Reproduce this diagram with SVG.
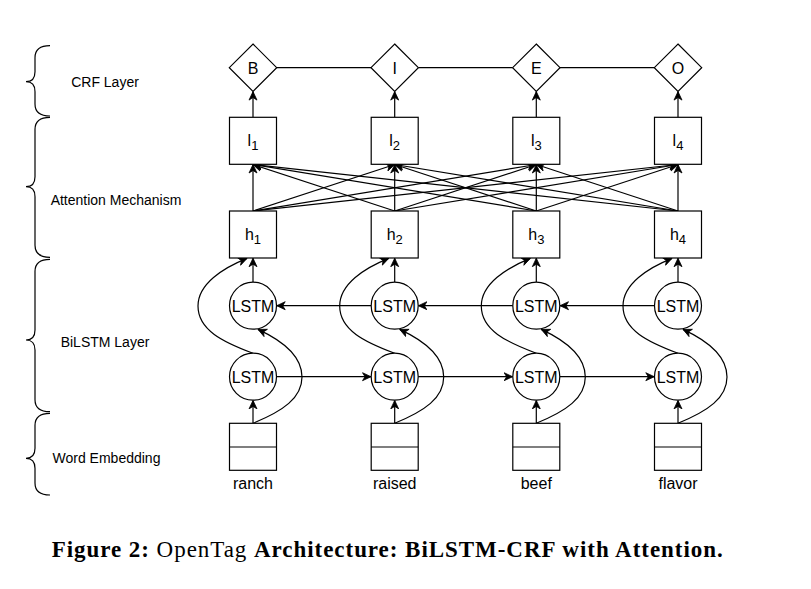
<svg xmlns="http://www.w3.org/2000/svg" width="811" height="589" viewBox="0 0 811 589">
<style>
.n{fill:#fff;stroke:#000;stroke-width:1.2}
.c{fill:none;stroke:#000;stroke-width:1.2}
.a{fill:none;stroke:#000;stroke-width:1.2;marker-end:url(#arr)}
.t{font-family:"Liberation Sans",Arial,sans-serif;font-size:16px;fill:#000;text-anchor:middle}
.lb{font-family:"Liberation Sans",Arial,sans-serif;font-size:14px;fill:#000;text-anchor:middle}
.cap{font-family:"Liberation Serif","Times New Roman",serif;font-size:23px;fill:#000}
</style>
<defs>
<marker id="arr" viewBox="-9 -5 10 10" refX="0" refY="0" markerWidth="10" markerHeight="10" markerUnits="userSpaceOnUse" orient="auto">
<path d="M0,0 L-8.5,-4 L-6,0 L-8.5,4 Z" fill="#000" stroke="#000" stroke-width="0.8"/>
</marker>
</defs>
<rect width="811" height="589" fill="#fff"/>

<g id="braces">
<path class="c" d="M50,45.7 Q35,45.7 35,57.7 L35,71.7 Q35,81.7 26,81.7 Q35,81.7 35,91.7 L35,104 Q35,116 50,116"/>
<path class="c" d="M50,117.3 Q35,117.3 35,129.3 L35,176.7 Q35,186.7 26,186.7 Q35,186.7 35,196.7 L35,245.3 Q35,257.3 50,257.3"/>
<path class="c" d="M50,259.3 Q35,259.3 35,271.3 L35,330 Q35,340 26,340 Q35,340 35,350 L35,399.7 Q35,411.7 50,411.7"/>
<path class="c" d="M50,413.3 Q35,413.3 35,425.3 L35,448.3 Q35,458.3 26,458.3 Q35,458.3 35,468.3 L35,483 Q35,495 50,495"/>
</g>
<g id="layer-labels">
<text class="lb" x="105" y="86.7">CRF Layer</text>
<text class="lb" x="116" y="205">Attention Mechanism</text>
<text class="lb" x="105" y="346.7">BiLSTM Layer</text>
<text class="lb" x="106.5" y="463.3">Word Embedding</text>
</g>

<g id="connectors">
<!-- CRF chain -->
<line class="c" x1="276.7" y1="67.7" x2="371" y2="67.7"/>
<line class="c" x1="418.4" y1="67.7" x2="512.6" y2="67.7"/>
<line class="c" x1="560" y1="67.7" x2="654.3" y2="67.7"/>
<!-- l to tags -->
<line class="a" x1="253" y1="117.3" x2="253" y2="91.6"/>
<line class="a" x1="394.7" y1="117.3" x2="394.7" y2="91.6"/>
<line class="a" x1="536.3" y1="117.3" x2="536.3" y2="91.6"/>
<line class="a" x1="678" y1="117.3" x2="678" y2="91.6"/>
<!-- attention -->
<line class="a" x1="253" y1="211" x2="253" y2="164.5"/>
<line class="a" x1="253" y1="211" x2="394.7" y2="164.5"/>
<line class="a" x1="253" y1="211" x2="536.3" y2="164.5"/>
<line class="a" x1="253" y1="211" x2="678" y2="164.5"/>
<line class="a" x1="394.7" y1="211" x2="253" y2="164.5"/>
<line class="a" x1="394.7" y1="211" x2="394.7" y2="164.5"/>
<line class="a" x1="394.7" y1="211" x2="536.3" y2="164.5"/>
<line class="a" x1="394.7" y1="211" x2="678" y2="164.5"/>
<line class="a" x1="536.3" y1="211" x2="253" y2="164.5"/>
<line class="a" x1="536.3" y1="211" x2="394.7" y2="164.5"/>
<line class="a" x1="536.3" y1="211" x2="536.3" y2="164.5"/>
<line class="a" x1="536.3" y1="211" x2="678" y2="164.5"/>
<line class="a" x1="678" y1="211" x2="253" y2="164.5"/>
<line class="a" x1="678" y1="211" x2="394.7" y2="164.5"/>
<line class="a" x1="678" y1="211" x2="536.3" y2="164.5"/>
<line class="a" x1="678" y1="211" x2="678" y2="164.5"/>
<!-- backward LSTM to h -->
<line class="a" x1="253" y1="282.2" x2="253" y2="258.2"/>
<line class="a" x1="394.7" y1="282.2" x2="394.7" y2="258.2"/>
<line class="a" x1="536.3" y1="282.2" x2="536.3" y2="258.2"/>
<line class="a" x1="678" y1="282.2" x2="678" y2="258.2"/>
<!-- embedding to forward LSTM -->
<line class="a" x1="253" y1="423.3" x2="253" y2="400.4"/>
<line class="a" x1="394.7" y1="423.3" x2="394.7" y2="400.4"/>
<line class="a" x1="536.3" y1="423.3" x2="536.3" y2="400.4"/>
<line class="a" x1="678" y1="423.3" x2="678" y2="400.4"/>
<!-- forward chain -->
<line class="a" x1="276.5" y1="376.7" x2="371" y2="376.7"/>
<line class="a" x1="418.2" y1="376.7" x2="512.6" y2="376.7"/>
<line class="a" x1="559.8" y1="376.7" x2="654.3" y2="376.7"/>
<!-- backward chain -->
<line class="a" x1="371.2" y1="305.7" x2="276.7" y2="305.7"/>
<line class="a" x1="512.8" y1="305.7" x2="418.4" y2="305.7"/>
<line class="a" x1="654.5" y1="305.7" x2="560" y2="305.7"/>
<!-- forward LSTM to h (curves) -->
<path class="a" d="M253,353.2 C223,342 198,330 198,306 C198,284 223,268 247,258.4"/>
<path class="a" d="M394.7,353.2 C364.7,342 339.7,330 339.7,306 C339.7,284 364.7,268 388.7,258.4"/>
<path class="a" d="M536.3,353.2 C506.3,342 481.3,330 481.3,306 C481.3,284 506.3,268 530.3,258.4"/>
<path class="a" d="M678,353.2 C648,342 623,330 623,306 C623,284 648,268 672,258.4"/>
<!-- embedding to backward LSTM (curves) -->
<path class="a" d="M253,423.3 C283,411 302,398 302,377 C302,356 281,340 258,329.4"/>
<path class="a" d="M394.7,423.3 C424.7,411 443.7,398 443.7,377 C443.7,356 422.7,340 399.7,329.4"/>
<path class="a" d="M536.3,423.3 C566.3,411 585.3,398 585.3,377 C585.3,356 564.3,340 541.3,329.4"/>
<path class="a" d="M678,423.3 C708,411 727,398 727,377 C727,356 706,340 683,329.4"/>
</g>

<g id="tag-B"><polygon class="n" points="253,44 276.7,67.7 253,91.4 229.3,67.7"/><text class="t" x="253" y="73.5">B</text></g>
<g id="tag-I"><polygon class="n" points="394.7,44 418.4,67.7 394.7,91.4 371,67.7"/><text class="t" x="394.7" y="73.5">I</text></g>
<g id="tag-E"><polygon class="n" points="536.3,44 560,67.7 536.3,91.4 512.6,67.7"/><text class="t" x="536.3" y="73.5">E</text></g>
<g id="tag-O"><polygon class="n" points="678,44 701.7,67.7 678,91.4 654.3,67.7"/><text class="t" x="678" y="73.5">O</text></g>

<g id="l1"><rect class="n" x="229.5" y="117.3" width="47" height="47"/><text class="t" x="253" y="146.3">l<tspan font-size="13" dy="4">1</tspan></text></g>
<g id="l2"><rect class="n" x="371.2" y="117.3" width="47" height="47"/><text class="t" x="394.7" y="146.3">l<tspan font-size="13" dy="4">2</tspan></text></g>
<g id="l3"><rect class="n" x="512.8" y="117.3" width="47" height="47"/><text class="t" x="536.3" y="146.3">l<tspan font-size="13" dy="4">3</tspan></text></g>
<g id="l4"><rect class="n" x="654.5" y="117.3" width="47" height="47"/><text class="t" x="678" y="146.3">l<tspan font-size="13" dy="4">4</tspan></text></g>

<g id="h1"><rect class="n" x="229.5" y="211" width="47" height="47"/><text class="t" x="253" y="240">h<tspan font-size="13" dy="4">1</tspan></text></g>
<g id="h2"><rect class="n" x="371.2" y="211" width="47" height="47"/><text class="t" x="394.7" y="240">h<tspan font-size="13" dy="4">2</tspan></text></g>
<g id="h3"><rect class="n" x="512.8" y="211" width="47" height="47"/><text class="t" x="536.3" y="240">h<tspan font-size="13" dy="4">3</tspan></text></g>
<g id="h4"><rect class="n" x="654.5" y="211" width="47" height="47"/><text class="t" x="678" y="240">h<tspan font-size="13" dy="4">4</tspan></text></g>

<g id="lstm-b1"><circle class="n" cx="253" cy="305.7" r="23.5"/><text class="t" x="253" y="311.5">LSTM</text></g>
<g id="lstm-b2"><circle class="n" cx="394.7" cy="305.7" r="23.5"/><text class="t" x="394.7" y="311.5">LSTM</text></g>
<g id="lstm-b3"><circle class="n" cx="536.3" cy="305.7" r="23.5"/><text class="t" x="536.3" y="311.5">LSTM</text></g>
<g id="lstm-b4"><circle class="n" cx="678" cy="305.7" r="23.5"/><text class="t" x="678" y="311.5">LSTM</text></g>

<g id="lstm-f1"><circle class="n" cx="253" cy="376.7" r="23.5"/><text class="t" x="253" y="382.5">LSTM</text></g>
<g id="lstm-f2"><circle class="n" cx="394.7" cy="376.7" r="23.5"/><text class="t" x="394.7" y="382.5">LSTM</text></g>
<g id="lstm-f3"><circle class="n" cx="536.3" cy="376.7" r="23.5"/><text class="t" x="536.3" y="382.5">LSTM</text></g>
<g id="lstm-f4"><circle class="n" cx="678" cy="376.7" r="23.5"/><text class="t" x="678" y="382.5">LSTM</text></g>

<g id="emb1"><rect class="n" x="229.5" y="423.3" width="47" height="47"/><line class="c" x1="229.5" y1="447" x2="276.5" y2="447"/><text class="t" x="253" y="489.3">ranch</text></g>
<g id="emb2"><rect class="n" x="371.2" y="423.3" width="47" height="47"/><line class="c" x1="371.2" y1="447" x2="418.2" y2="447"/><text class="t" x="394.7" y="489.3">raised</text></g>
<g id="emb3"><rect class="n" x="512.8" y="423.3" width="47" height="47"/><line class="c" x1="512.8" y1="447" x2="559.8" y2="447"/><text class="t" x="536.3" y="489.3">beef</text></g>
<g id="emb4"><rect class="n" x="654.5" y="423.3" width="47" height="47"/><line class="c" x1="654.5" y1="447" x2="701.5" y2="447"/><text class="t" x="678" y="489.3">flavor</text></g>

<g id="caption">
<text class="cap" x="51.7" y="557.3" textLength="671" lengthAdjust="spacing"><tspan font-weight="bold">Figure 2:</tspan> OpenTag <tspan font-weight="bold">Architecture: BiLSTM-CRF with Attention.</tspan></text>
</g>
</svg>
